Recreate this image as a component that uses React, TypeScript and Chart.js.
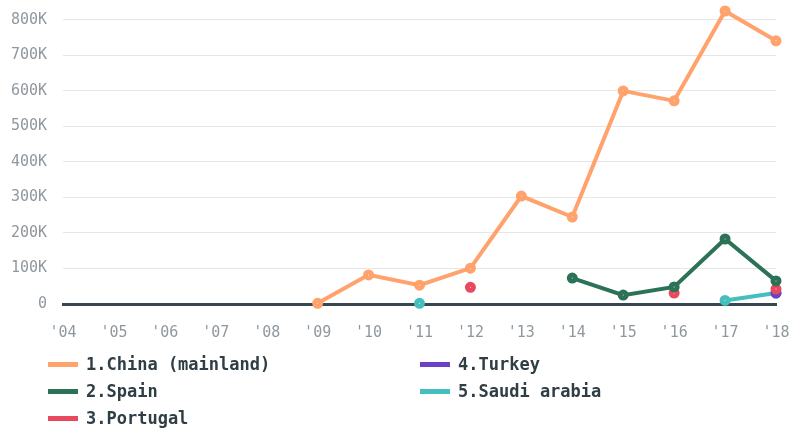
import React, { useEffect, useRef } from "react";
import { Chart, registerables } from "chart.js";

Chart.register(...registerables);

const years = ["'04", "'05", "'06", "'07", "'08", "'09", "'10", "'11", "'12", "'13", "'14", "'15", "'16", "'17", "'18"];
const china = [null, null, null, null, null, 2000, 82000, 53000, 101000, 304000, 245000, 600000, 572000, 825000, 741000];
const spain = [null, null, null, null, null, null, null, null, null, null, 73000, 25000, 48000, 183000, 65000];
const portugal = [null, null, null, null, null, null, null, null, 47000, null, null, null, 31000, null, 42000];
const turkey = [null, null, null, null, null, null, null, null, null, null, null, null, null, null, 31000];
const saudi = [null, null, null, null, null, null, null, 2000, null, null, null, null, null, 10000, 31000];

const seriesNames = ["1.China (mainland)", "2.Spain", "3.Portugal", "4.Turkey", "5.Saudi arabia"];
const seriesColors = ["#ffa26c", "#2b7256", "#e8495f", "#6b3fc6", "#45bebe"];
const seriesData = [china, spain, portugal, turkey, saudi];
const yTicks = [0, 100000, 200000, 300000, 400000, 500000, 600000, 700000, 800000];

const MONO = "'DejaVu Sans Mono', monospace";

export default function App() {
  const ref = useRef<HTMLCanvasElement>(null);
  useEffect(() => {
    if (!ref.current) return;
    const chart = new Chart(ref.current, {
      type: "line",
      data: {
        labels: years,
        datasets: seriesData.map((d, i) => ({
          label: seriesNames[i],
          data: d,
          borderColor: seriesColors[i],
          backgroundColor: seriesColors[i],
          pointBackgroundColor: "#ffffff",
          pointBorderColor: seriesColors[i],
          borderWidth: 4,
          pointRadius: 3,
          pointBorderWidth: 5,
          spanGaps: false,
          clip: false as any,
          tension: 0,
        })),
      },
      options: {
        animation: false,
        responsive: false,
        maintainAspectRatio: false,
        layout: { padding: { left: 10, right: 15, top: 10, bottom: 0 } },
        plugins: { legend: { display: false }, tooltip: { enabled: false } },
        scales: {
          x: {
            offset: false,
            afterFit: (s: any) => {
              s.paddingLeft = 0;
              s.paddingRight = 0;
            },
            grid: { display: false, drawTicks: false },
            border: { display: true, color: "#37474f", width: 3 },
            ticks: { color: "#8f989f", font: { family: MONO, size: 15 }, padding: 20, maxRotation: 0, autoSkip: false },
          },
          y: {
            min: 0,
            max: 825000,
            afterBuildTicks: (axis: any) => {
              axis.ticks = yTicks.map((v) => ({ value: v }));
            },
            afterFit: (s: any) => {
              s.width = 53;
            },
            grid: {
              drawTicks: false,
              color: (ctx: any) => (ctx.tick && ctx.tick.value === 0 ? "rgba(0,0,0,0)" : "#e6e6e6"),
              lineWidth: 1,
            },
            border: { display: false },
            ticks: {
              color: "#8f989f",
              font: { family: MONO, size: 15 },
              padding: 16,
              autoSkip: false,
              callback: (v: any) => (Number(v) === 0 ? "0" : Math.round(Number(v) / 1000) + "K"),
            },
          },
        },
      },
    });
    return () => chart.destroy();
  }, []);

  const legendPos = [
    { x: 48, y: 364 },
    { x: 48, y: 391 },
    { x: 48, y: 418 },
    { x: 420, y: 364 },
    { x: 420, y: 391 },
  ];

  return (
    <div style={{ position: "fixed", left: 0, top: 0, width: 791, height: 430, background: "#fff", overflow: "hidden" }}>
      <canvas ref={ref} width={791} height={376} style={{ position: "absolute", left: 0, top: -14, width: 791, height: 376 }} />
      {seriesNames.map((n, i) => (
        <div
          key={n}
          style={{
            position: "absolute",
            left: legendPos[i].x,
            top: legendPos[i].y - 12,
            height: 24,
            display: "flex",
            alignItems: "center",
            fontFamily: MONO,
            fontWeight: "bold",
            fontSize: 17,
            color: "#2f3d45",
            whiteSpace: "nowrap",
          }}
        >
          <span style={{ display: "inline-block", width: 30, height: 5, background: seriesColors[i], marginRight: 8 }} />
          <span>{n}</span>
        </div>
      ))}
    </div>
  );
}
